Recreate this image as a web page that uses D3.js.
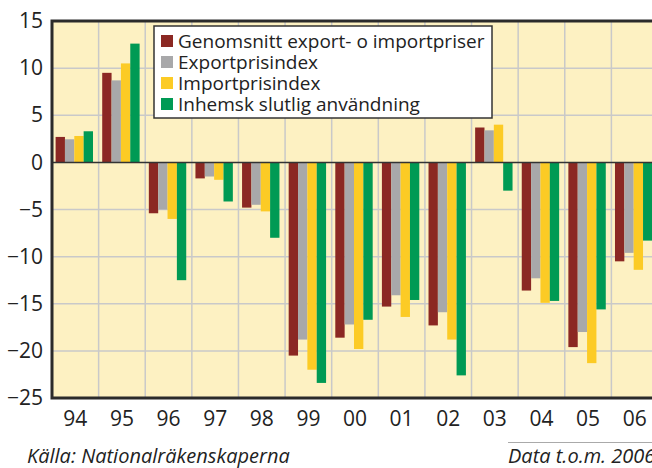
<!DOCTYPE html>
<html>
<head>
<meta charset="utf-8">
<script src="https://cdn.jsdelivr.net/npm/d3@7"></script>
<style>
  body { margin: 0; background: #fff; }
  svg { display: block; font-family: "Open Sans", "Noto Sans", sans-serif; }
</style>
</head>
<body>
<div class="chart"></div>
<script>
// categories (years) and series
var years = ["94", "95", "96", "97", "98", "99", "00", "01", "02", "03", "04", "05", "06"];
var seriesNames = ["Genomsnitt export- o importpriser", "Exportprisindex", "Importprisindex", "Inhemsk slutlig användning"];
var seriesColors = ["#8b2823", "#a8a8aa", "#fccb25", "#009a54"];

var avgPrices = [2.7, 9.5, -5.4, -1.7, -4.8, -20.5, -18.6, -15.3, -17.3, 3.7, -13.6, -19.6, -10.5];
var exportIdx = [2.45, 8.7, -5.0, -1.5, -4.5, -18.8, -17.2, -14.1, -15.9, 3.4, -12.3, -18.0, -9.6];
var importIdx = [2.8, 10.5, -6.0, -1.85, -5.2, -22.0, -19.8, -16.4, -18.8, 4.0, -14.9, -21.3, -11.4];
var domestic = [3.3, 12.6, -12.5, -4.15, -8.0, -23.4, -16.7, -14.6, -22.6, -3.0, -14.7, -15.6, -8.3];

var yTicks = [15, 10, 5, 0, -5, -10, -15, -20, -25];

var allSeries = [avgPrices, exportIdx, importIdx, domestic];

var W = 652, H = 468;
var plotL = 52, plotR = 658, plotT = 21, plotB = 398;

var svg = d3.select(".chart").append("svg")
    .attr("width", W)
    .attr("height", H);

var x = d3.scaleBand().domain(years).range([plotL, plotR]);
var xInner = d3.scaleBand().domain(d3.range(4)).range([3.6, 41]);
var y = d3.scaleLinear().domain([-25, 15]).range([plotB, plotT]);

// background
svg.append("rect")
    .attr("x", plotL).attr("y", plotT)
    .attr("width", plotR - plotL).attr("height", plotB - plotT)
    .attr("fill", "#fdf1c2");

// grid
svg.append("g").selectAll("line")
    .data(yTicks.filter(function(d) { return d !== 15 && d !== -25 && d !== 0; }))
    .enter().append("line")
    .attr("x1", plotL).attr("x2", plotR)
    .attr("y1", function(d) { return y(d); })
    .attr("y2", function(d) { return y(d); })
    .attr("stroke", "#c9c9c9").attr("stroke-width", 1.5);

svg.append("g").selectAll("line")
    .data(years.slice(1))
    .enter().append("line")
    .attr("x1", function(d) { return x(d); })
    .attr("x2", function(d) { return x(d); })
    .attr("y1", plotT).attr("y2", plotB)
    .attr("stroke", "#c9c9c9").attr("stroke-width", 1.5);

// bars
var groups = svg.append("g").selectAll("g")
    .data(years)
    .enter().append("g")
    .attr("transform", function(d) { return "translate(" + x(d) + ",0)"; });

groups.selectAll("rect")
    .data(function(d, i) { return allSeries.map(function(s, k) { return { k: k, v: s[i] }; }); })
    .enter().append("rect")
    .attr("x", function(d) { return xInner(d.k); })
    .attr("width", xInner.bandwidth())
    .attr("y", function(d) { return y(Math.max(0, d.v)); })
    .attr("height", function(d) { return Math.abs(y(d.v) - y(0)); })
    .attr("fill", function(d) { return seriesColors[d.k]; });

// zero line
svg.append("line")
    .attr("x1", plotL).attr("x2", plotR)
    .attr("y1", y(0)).attr("y2", y(0))
    .attr("stroke", "#333").attr("stroke-width", 1.5);

// frame (top, left, bottom)
svg.append("path")
    .attr("d", "M" + plotR + "," + plotT + "H" + plotL + "V" + plotB + "H" + plotR)
    .attr("fill", "none")
    .attr("stroke", "#2b2b2b")
    .attr("stroke-width", 3);

// y axis labels
var yAxis = d3.axisLeft(y).tickValues(yTicks).tickSize(0).tickPadding(9).tickFormat(d3.format("d"));
var yg = svg.append("g")
    .attr("transform", "translate(" + plotL + ",0)")
    .call(yAxis);
yg.select(".domain").remove();
yg.selectAll("text")
    .attr("font-size", 21)
    .attr("font-family", "Open Sans, sans-serif")
    .attr("fill", "#222");

// x axis labels
var xAxis = d3.axisBottom(x).tickSize(0).tickPadding(13);
var xg = svg.append("g")
    .attr("transform", "translate(0," + plotB + ")")
    .call(xAxis);
xg.select(".domain").remove();
xg.selectAll("text")
    .attr("font-size", 21)
    .attr("font-family", "Open Sans, sans-serif")
    .attr("fill", "#222");

// legend
var legend = svg.append("g");
legend.append("rect")
    .attr("x", 154).attr("y", 26)
    .attr("width", 338).attr("height", 92)
    .attr("fill", "#fff")
    .attr("stroke", "#333")
    .attr("stroke-width", 1.5);

var rows = legend.selectAll("g")
    .data(seriesNames)
    .enter().append("g")
    .attr("transform", function(d, i) { return "translate(161," + (41 + i * 21) + ")"; });

rows.append("rect")
    .attr("x", 0).attr("y", -6)
    .attr("width", 12).attr("height", 12)
    .attr("fill", function(d, i) { return seriesColors[i]; });

rows.append("text")
    .attr("x", 17).attr("y", 0)
    .attr("dy", "0.35em")
    .attr("font-size", 19)
    .attr("fill", "#222")
    .text(function(d) { return d; });

// footer
svg.append("text")
    .attr("x", 27).attr("y", 463)
    .attr("font-size", 20)
    .attr("font-style", "italic")
    .attr("fill", "#222")
    .text("Källa: Nationalräkenskaperna");

svg.append("line")
    .attr("x1", 508).attr("x2", W)
    .attr("y1", 442.5).attr("y2", 442.5)
    .attr("stroke", "#aaa").attr("stroke-width", 1);

svg.append("text")
    .attr("x", 508).attr("y", 463)
    .attr("font-size", 20)
    .attr("font-style", "italic")
    .attr("fill", "#222")
    .text("Data t.o.m. 2006");
</script>
</body>
</html>
